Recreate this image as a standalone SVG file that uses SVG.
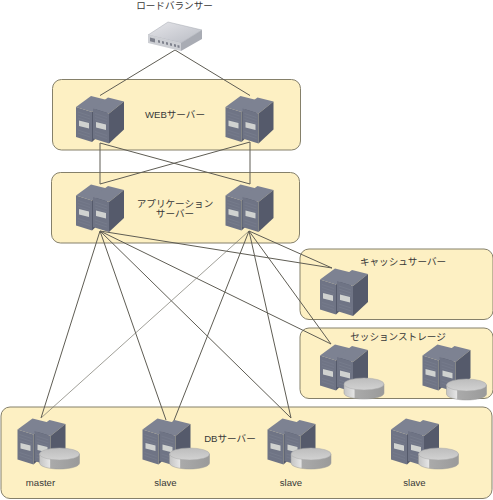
<svg xmlns="http://www.w3.org/2000/svg" xmlns:xlink="http://www.w3.org/1999/xlink" width="493" height="500" viewBox="0 0 493 500">
<style>
text{font-family:"Liberation Sans","Noto Sans CJK JP",sans-serif;font-size:9.6px;fill:#383838;text-anchor:middle}
.zone{fill:#fdf0c3;stroke:#85806a;stroke-width:1}
.c line{stroke:#5f5d54;stroke-width:1;fill:none}
.c line.thin{stroke:#77766c;stroke-width:.7}
.top{fill:#7d8292}.front{fill:#6f7485}.side{fill:#555a6b}.rib{stroke:#7b808f;stroke-width:.6}
.tag{fill:#d0d2d0}
</style>
<defs>
<linearGradient id="dside" x1="0" y1="0" x2="1" y2="0"><stop offset="0" stop-color="#c4c4c4"/><stop offset=".25" stop-color="#e4e4e4"/><stop offset=".28" stop-color="#aaa"/><stop offset="1" stop-color="#9a9a9a"/></linearGradient>
<linearGradient id="dtop" x1="0" y1="0" x2="0" y2="1"><stop offset="0" stop-color="#bdbdbd"/><stop offset="1" stop-color="#d2d2d2"/></linearGradient>
<linearGradient id="lbtop" x1="0" y1="0" x2="1" y2="1"><stop offset="0" stop-color="#e6e6ea"/><stop offset="1" stop-color="#b9bcc4"/></linearGradient>
<g id="unit">
<path class="top" d="M0 12L15 1L31 5L16 17Z"/>
<path class="front" d="M0 12L16 17V47L0 42Z"/>
<path class="side" d="M16 17L31 5V33L16 47Z"/>
<path class="rib" d="M2 17L14 21M2 20L14 24M2 23L14 27M2 35L14 39M2 38L14 42"/>
<path class="tag" d="M3 25.500L13 28V33.500L3 31Z"/>
</g>
<g id="srv">
<use xlink:href="#unit" href="#unit"/>
<use xlink:href="#unit" href="#unit" x="17" y="1.500"/>
</g>
<g id="disk">
<path fill="url(#dside)" stroke="#999" stroke-width=".5" d="M0 6V15C0 18.500 9 21 20 21S40 18.500 40 15V6Z"/>
<ellipse cx="20" cy="6" rx="20" ry="6" fill="url(#dtop)" stroke="#aaa" stroke-width=".5"/>
</g>
</defs>

<g id="zone-web"><rect class="zone" x="52.500" y="79.500" width="248" height="70.500" rx="9"/></g>
<g id="zone-app"><rect class="zone" x="51.500" y="172.500" width="248" height="70.500" rx="9"/></g>
<g id="zone-cache"><rect class="zone" x="300" y="249" width="193" height="70.500" rx="9"/></g>
<g id="zone-session"><rect class="zone" x="300" y="328" width="193" height="70.500" rx="9"/></g>
<g id="zone-db"><rect class="zone" x="1" y="407" width="491" height="91.500" rx="9"/></g>

<g id="connectors" class="c">
<line x1="175" y1="50" x2="100" y2="95.500"/>
<line x1="175" y1="50" x2="250" y2="95.500"/>
<line x1="100" y1="143" x2="100" y2="184"/>
<line x1="100" y1="143" x2="250" y2="184"/>
<line x1="250" y1="142" x2="100" y2="184"/>
<line x1="250" y1="142" x2="250" y2="184"/>
<line x1="100" y1="231" x2="332" y2="268"/>
<line x1="100" y1="231" x2="331" y2="344"/>
<line x1="100" y1="231" x2="41" y2="418"/>
<line x1="100" y1="231" x2="166" y2="420"/>
<line x1="100" y1="231" x2="291" y2="418"/>
<line x1="249" y1="231" x2="332" y2="268"/>
<line x1="249" y1="231" x2="331" y2="344"/>
<line class="thin" x1="249" y1="231" x2="41" y2="418"/>
<line x1="249" y1="231" x2="173" y2="423"/>
<line x1="249" y1="231" x2="291" y2="418"/>
</g>

<g id="lb">
<path fill="url(#lbtop)" stroke="#a5a8b0" stroke-width=".5" d="M148 35L168 22L202 30L181 43Z"/>
<path fill="#cdcfd4" d="M148 35L181 43V51L148 43Z"/>
<path fill="#a9acb4" d="M181 43L202 30V39L181 51Z"/>
<path fill="#7f828d" d="M150 37.500L155 38.700V42.500L150 41.300ZM158 40L160 40.500V43L158 42.500ZM162 41L164 41.500V44L162 43.500ZM166 42L168 42.500V45L166 44.500ZM170 43L172 43.500V46L170 45.500ZM174 44L176 44.500V47L174 46.500ZM177.500 45L179.500 45.500V48L177.500 47.500Z"/>
</g>
<g id="web-1"><use xlink:href="#srv" href="#srv" x="76" y="95"/></g>
<g id="web-2"><use xlink:href="#srv" href="#srv" x="225.500" y="95"/></g>
<g id="app-1"><use xlink:href="#srv" href="#srv" x="76" y="183.500"/></g>
<g id="app-2"><use xlink:href="#srv" href="#srv" x="225.500" y="183.500"/></g>
<g id="cache-1"><use xlink:href="#srv" href="#srv" x="320" y="267.500"/></g>
<g id="session-1"><use xlink:href="#srv" href="#srv" x="320" y="343.500"/><use xlink:href="#disk" href="#disk" x="344" y="378"/></g>
<g id="session-2"><use xlink:href="#srv" href="#srv" x="422.500" y="343.500"/><use xlink:href="#disk" href="#disk" x="446.500" y="379"/></g>
<g id="db-master"><use xlink:href="#srv" href="#srv" x="17.500" y="417.500"/><use xlink:href="#disk" href="#disk" x="39.500" y="448"/><text x="40.500" y="486">master</text></g>
<g id="db-slave-1"><use xlink:href="#srv" href="#srv" x="142.500" y="417.500"/><use xlink:href="#disk" href="#disk" x="169.500" y="448"/><text x="165.500" y="486">slave</text></g>
<g id="db-slave-2"><use xlink:href="#srv" href="#srv" x="267.500" y="417.500"/><use xlink:href="#disk" href="#disk" x="291" y="448"/><text x="291" y="486">slave</text></g>
<g id="db-slave-3"><use xlink:href="#srv" href="#srv" x="391" y="417.500"/><use xlink:href="#disk" href="#disk" x="418.500" y="448"/><text x="414.500" y="486">slave</text></g>

<g id="labels">
<text x="174.500" y="9">ロードバランサー</text>
<text x="175" y="118">WEBサーバー</text>
<text x="175" y="207">アプリケーション</text>
<text x="175" y="217">サーバー</text>
<text x="403" y="264.500">キャッシュサーバー</text>
<text x="398" y="339.500">セッションストレージ</text>
<text x="230" y="441.500">DBサーバー</text>
</g>
</svg>
